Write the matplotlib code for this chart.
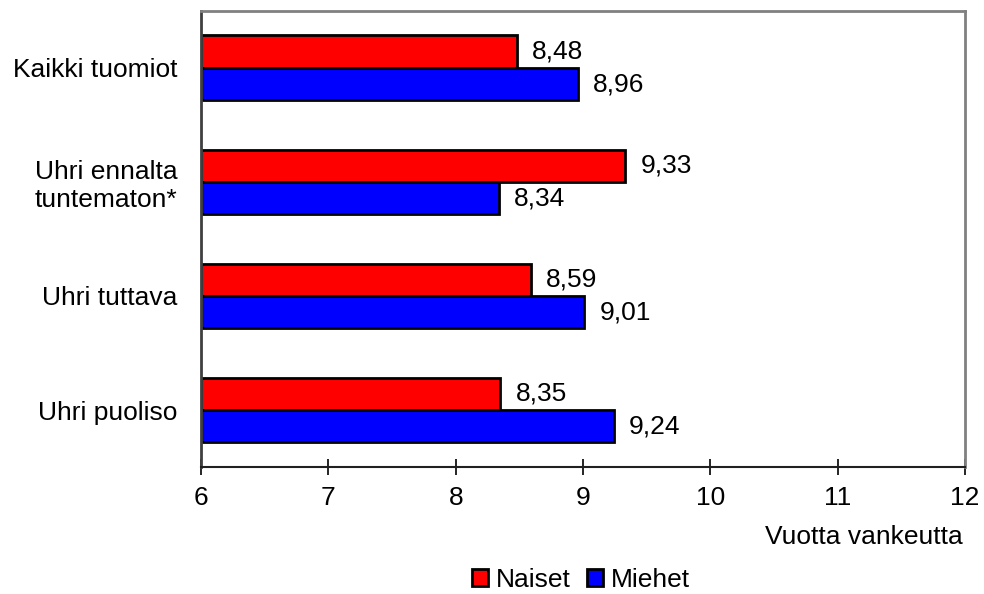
import numpy as np
import matplotlib.pyplot as plt

plt.rcParams['font.family'] = ['Liberation Sans', 'DejaVu Sans']

categories = ['Kaikki tuomiot', 'Uhri ennalta\ntuntematon*', 'Uhri tuttava', 'Uhri puoliso']
naiset = [8.48, 9.33, 8.59, 8.35]
miehet = [8.96, 8.34, 9.01, 9.24]
xticks = [6, 7, 8, 9, 10, 11, 12]

FS = 19

fig = plt.figure(figsize=(9.84, 5.94), dpi=100)
ax = fig.add_axes([0.2043, 0.2138, 0.7764, 0.7677])

y = np.arange(len(categories))
h = 0.285
bn = ax.barh(y - h / 2, np.array(naiset) - 6, left=6, height=h, color='#ff0000',
             edgecolor='black', linewidth=2, label='Naiset')
bm = ax.barh(y + h / 2, np.array(miehet) - 6, left=6, height=h, color='#0000ff',
             edgecolor='black', linewidth=2, label='Miehet')

for yy, v in zip(y - h / 2, naiset):
    ax.text(v + 0.12, yy, f'{v:.2f}'.replace('.', ','), va='center', ha='left', fontsize=FS)
for yy, v in zip(y + h / 2, miehet):
    ax.text(v + 0.12, yy, f'{v:.2f}'.replace('.', ','), va='center', ha='left', fontsize=FS)

ax.set_xlim(6, 12)
ax.set_ylim(3.5, -0.5)
ax.set_xticks(xticks)
ax.set_xticklabels([str(t) for t in xticks], fontsize=FS)
ax.set_yticks(y)
ax.set_yticklabels(categories, fontsize=FS, ha='right')
ax.tick_params(axis='y', length=0, pad=17)
ax.tick_params(axis='x', direction='inout', length=12, width=1.2, pad=8)

for s in ['top', 'right']:
    ax.spines[s].set_color('#808080')
    ax.spines[s].set_linewidth(2)
ax.spines['left'].set_color('#404040')
ax.spines['left'].set_linewidth(2)
ax.spines['bottom'].set_color('#202020')
ax.spines['bottom'].set_linewidth(1.5)

fig.text(0.978, 0.096, 'Vuotta vankeutta', ha='right', va='center', fontsize=FS)

fig.legend(handles=[bn, bm], loc='center', bbox_to_anchor=(0.5905, 0.024), ncol=2,
           frameon=False, fontsize=FS, handlelength=0.6, handleheight=0.6,
           handletextpad=0.3, columnspacing=0.6, borderpad=0)

fig.savefig('out.png', dpi=100)
